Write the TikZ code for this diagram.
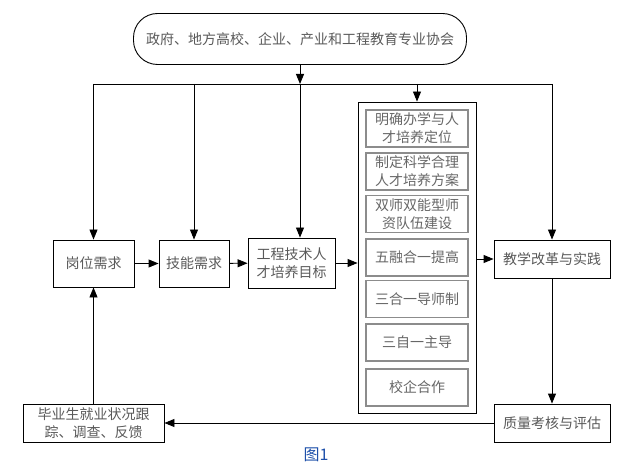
\documentclass[tikz,border=0pt]{standalone}
\usepackage{fontspec}
\setmainfont{Noto Sans CJK SC}
\usetikzlibrary{arrows.meta}
\definecolor{tublue}{RGB}{30,80,170}

\begin{document}
\begin{tikzpicture}[x=1pt,y=-1pt,
  box/.style={draw, line width=.9pt, align=center, text=black!65, inner sep=0pt, font=\fontsize{14}{18}\selectfont},
  inbox/.style={draw=black!45, line width=1.6pt, minimum width=102pt, minimum height=37pt, align=center, text=black!60, inner sep=0pt, font=\fontsize{14}{18}\selectfont},
  arr/.style={line width=.9pt, -{Triangle[length=10pt,width=8pt]}}]
\useasboundingbox (0,0) rectangle (629,465);

\node[box, minimum width=333pt, minimum height=51pt, rounded corners=24pt] (xiehui) at (300,39) {政府、地方高校、企业、产业和工程教育专业协会};
\node[box, minimum width=81pt, minimum height=47pt] (gangwei) at (93.5,263.5) {岗位需求};
\node[box, minimum width=70pt, minimum height=47pt] (jineng) at (194,263.5) {技能需求};
\node[box, minimum width=87pt, minimum height=50pt] (mubiao) at (291.5,263) {工程技术人\\才培养目标};
\node[box, minimum width=118pt, minimum height=311pt] (gaige) at (417,257.5) {};
\node[box, minimum width=116pt, minimum height=38pt] (shijian) at (552,259) {教学改革与实践};
\node[box, minimum width=116pt, minimum height=38pt] (kaohe) at (552,423) {质量考核与评估};
\node[box, minimum width=141pt, minimum height=38pt] (genzong) at (93.5,423) {毕业生就业状况跟\\踪、调查、反馈};

\foreach \y/\t [count=\i] in {128.5/{明确办学与人\\才培养定位}, 171.5/{制定科学合理\\人才培养方案}, 214/{双师双能型师\\资队伍建设}, 257.5/{五融合一提高}, 299/{三合一导师制}, 342.5/{三自一主导}, 387.5/{校企合作}} \node[inbox] (c\i) at (417,\y) {\t};

\coordinate (fenpei) at (300,84);
\draw[arr] (xiehui.south -| fenpei) -- (fenpei);
\draw[line width=.9pt] (gangwei.north |- fenpei) -- (shijian.north |- fenpei);
\foreach \n in {gangwei, jineng, gaige, shijian} \draw[arr] (\n.north |- fenpei) -- (\n.north);
\draw[arr] (fenpei) -- (fenpei |- mubiao.north);

\draw[arr] (gangwei) -- (jineng);
\draw[arr] (jineng) -- (mubiao);
\draw[arr] (mubiao.east) -- (mubiao.east -| gaige.west);
\draw[arr] (gaige.east |- shijian) -- (shijian.west);
\draw[arr] (shijian) -- (kaohe);
\draw[arr] (kaohe) -- (genzong);
\draw[arr] (genzong) -- (gangwei);

\node[text=tublue, font=\fontsize{16}{16}\selectfont] (tu) at (316,455) {图1};
\end{tikzpicture}
\end{document}
